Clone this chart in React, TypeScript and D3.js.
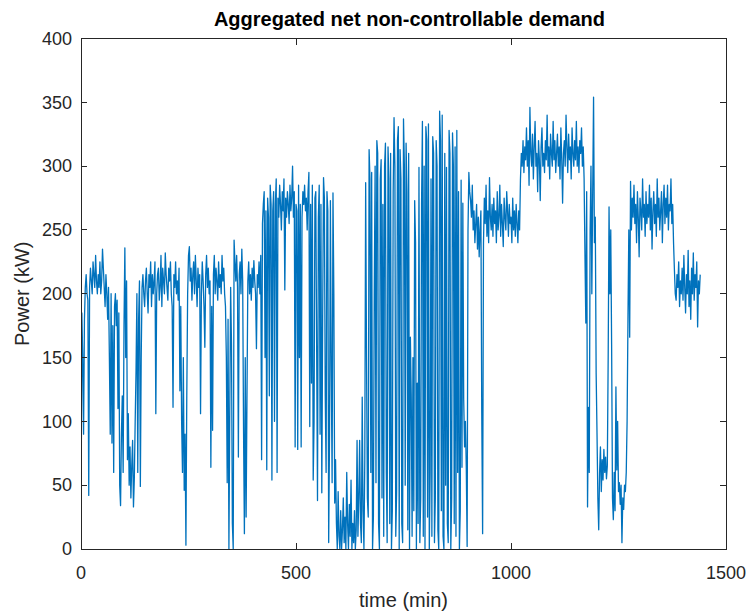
import React from 'react';
import * as d3 from 'd3';

const W = 746;
const H = 611;

const title = 'Aggregated net non-controllable demand';
const xLabel = 'time (min)';
const yLabel = 'Power (kW)';
const xTicks = [0, 500, 1000, 1500];
const yTicks = [0, 50, 100, 150, 200, 250, 300, 350, 400];

// sampling step of the series, minutes
const stepMin = 2;

// power (kW), one value every 2 minutes, 0 .. 1440 min
const power = [
  // 0-38
  5, 185, 150, 90, 180, 205, 215, 200, 195, 42, 205, 220, 210, 200, 225, 215, 205, 230, 210, 200,
  // 40-78
  215, 205, 225, 200, 210, 235, 220, 205, 190, 215, 200, 180, 205, 150, 90, 200, 83, 175, 60, 190,
  // 80-118
  200, 175, 195, 110, 185, 50, 34, 90, 120, 60, 175, 236, 150, 210, 70, 106, 50, 80, 40, 65,
  // 120-158
  85, 33, 55, 100, 140, 200, 60, 180, 210, 49, 150, 205, 215, 200, 190, 210, 220, 200, 185, 215,
  // 160-198
  205, 225, 190, 215, 200, 210, 225, 106, 200, 215, 220, 195, 205, 230, 190, 220, 210, 200, 232, 215,
  // 200-238
  205, 195, 220, 210, 225, 200, 190, 111, 215, 205, 225, 200, 210, 195, 220, 124, 190, 100, 60, 150,
  // 240-278
  46, 90, 3, 120, 200, 230, 237, 210, 220, 195, 215, 225, 200, 230, 210, 190, 220, 205, 215, 106,
  // 280-318
  200, 225, 210, 190, 158, 215, 230, 205, 220, 200, 210, 64, 190, 93, 215, 230, 200, 220, 210, 195,
  // 320-358
  225, 205, 215, 200, 230, 210, 220, 200, 190, 150, 52, 180, 0, 110, 205, 160, 20, 0, 242, 225,
  // 360-398
  210, 230, 205, 72, 215, 225, 200, 235, 210, 93, 12, 150, 25, 120, 210, 225, 200, 215, 195, 220,
  // 400-438
  205, 226, 210, 200, 157, 215, 205, 225, 200, 230, 70, 255, 270, 280, 150, 265, 62, 275, 260, 120,
  // 440-478
  285, 270, 54, 265, 280, 100, 270, 290, 60, 275, 260, 285, 270, 250, 280, 265, 290, 203, 275, 260,
  // 480-518
  280, 270, 255, 285, 265, 275, 300, 260, 280, 80, 270, 265, 78, 285, 150, 270, 80, 260, 280, 270,
  // 520-558
  285, 265, 275, 250, 280, 295, 96, 270, 130, 285, 54, 100, 275, 280, 160, 38, 260, 285, 90, 270,
  // 560-598
  44, 180, 291, 275, 120, 60, 280, 265, 5, 90, 273, 140, 52, 279, 200, 36, 70, 20, 0, 45,
  // 600-638
  10, 0, 30, 0, 15, 40, 5, 25, 0, 60, 20, 0, 35, 10, 54, 0, 20, 5, 30, 0,
  // 640-678
  15, 85, 10, 40, 85, 20, 5, 119, 30, 0, 70, 287, 150, 40, 25, 313, 290, 60, 295, 0,
  // 680-718
  25, 200, 300, 52, 320, 310, 20, 0, 290, 305, 40, 270, 10, 300, 318, 60, 5, 315, 290, 20,
  // 720-758
  310, 0, 30, 280, 338, 300, 10, 45, 320, 331, 0, 313, 290, 20, 5, 337, 300, 50, 318, 280,
  // 760-798
  15, 310, 0, 166, 120, 10, 150, 30, 273, 240, 0, 130, 20, 299, 5, 40, 270, 335, 10, 300,
  // 800-838
  0, 331, 320, 25, 333, 0, 60, 290, 10, 323, 310, 5, 40, 320, 300, 15, 0, 343, 320, 30,
  // 840-878
  340, 10, 0, 310, 50, 299, 20, 5, 328, 310, 0, 40, 326, 300, 20, 315, 10, 328, 60, 280,
  // 880-918
  0, 30, 289, 64, 271, 117, 80, 100, 64, 2, 250, 295, 280, 273, 260, 285, 250, 265, 240, 255,
  // 920-958
  270, 235, 260, 229, 250, 265, 106, 12, 240, 275, 255, 285, 245, 265, 240, 291, 260, 250, 270, 245,
  // 960-998
  275, 255, 265, 240, 280, 250, 260, 285, 245, 270, 255, 237, 275, 260, 250, 280, 265, 245, 270, 255,
  // 1000-1038
  260, 240, 275, 250, 265, 245, 270, 255, 240, 265, 250, 290, 310, 300, 320, 295, 315, 305, 330, 300,
  // 1040-1078
  320, 285, 346, 310, 300, 325, 290, 315, 335, 300, 310, 280, 320, 305, 273, 315, 330, 300, 310, 295,
  // 1080-1118
  320, 305, 340, 300, 315, 290, 325, 310, 300, 335, 305, 320, 295, 310, 325, 300, 315, 290, 330, 305,
  // 1120-1158
  271, 310, 320, 300, 340, 315, 295, 325, 305, 315, 290, 330, 310, 300, 320, 305, 335, 300, 315, 295,
  // 1160-1198
  320, 310, 330, 300, 315, 290, 230, 177, 280, 33, 111, 60, 250, 300, 200, 280, 354, 240, 260, 138,
  // 1200-1238
  91, 40, 15, 60, 80, 45, 70, 54, 78, 60, 72, 55, 65, 150, 268, 200, 250, 160, 40, 23,
  // 1240-1278
  60, 30, 127, 62, 100, 45, 52, 35, 50, 5, 40, 31, 50, 45, 60, 100, 180, 250, 166, 288,
  // 1280-1318
  250, 275, 260, 285, 255, 270, 240, 280, 260, 229, 275, 265, 250, 290, 260, 270, 245, 280, 255, 270,
  // 1320-1358
  260, 285, 250, 275, 235, 265, 280, 255, 270, 245, 290, 260, 275, 250, 265, 280, 240, 270, 285, 255,
  // 1360-1398
  275, 260, 285, 250, 270, 265, 290, 255, 270, 240, 219, 200, 195, 215, 205, 225, 190, 210, 200, 220,
  // 1400-1438
  195, 230, 205, 185, 215, 200, 234, 190, 210, 180, 220, 200, 232, 195, 215, 205, 225, 174, 210, 200,
  // 1440
  215,
];

const times = power.map((_, i) => i * stepMin);

const left = 81;
const right = 726;
const top = 38.5;
const bottom = 549;

const FONT = '"Liberation Sans", Arial, Helvetica, sans-serif';
const AX = '#262626';
const LINE = '#0072BD';

export default function App() {
  const x = d3.scaleLinear().domain([0, 1500]).range([left, right]);
  const y = d3.scaleLinear().domain([0, 400]).range([bottom, top]);
  const line = d3
    .line<number>()
    .x((_, i) => x(times[i]))
    .y((d) => y(d));
  const tickLen = 6;

  return (
    <svg
      width={W}
      height={H}
      style={{ position: 'absolute', left: 0, top: 0, background: '#fff' }}
      fontFamily={FONT}
    >
      <rect x={0} y={0} width={W} height={H} fill="#fff" />
      <defs>
        <clipPath id="plotclip">
          <rect x={left} y={top} width={right - left} height={bottom - top} />
        </clipPath>
      </defs>
      <path
        d={line(power) || ''}
        fill="none"
        stroke={LINE}
        strokeWidth={1.3}
        strokeLinejoin="round"
        clipPath="url(#plotclip)"
      />
      {/* box */}
      <rect
        x={left}
        y={top}
        width={right - left}
        height={bottom - top}
        fill="none"
        stroke={AX}
        strokeWidth={1}
        shapeRendering="crispEdges"
      />
      {/* x ticks */}
      {xTicks.map((t) => (
        <g key={'x' + t}>
          <line x1={x(t)} x2={x(t)} y1={bottom} y2={bottom - tickLen} stroke={AX} shapeRendering="crispEdges" />
          <line x1={x(t)} x2={x(t)} y1={top} y2={top + tickLen} stroke={AX} shapeRendering="crispEdges" />
          <text x={x(t)} y={579} textAnchor="middle" fontSize={18} fill={AX}>
            {t}
          </text>
        </g>
      ))}
      {/* y ticks */}
      {yTicks.map((t) => (
        <g key={'y' + t}>
          <line x1={left} x2={left + tickLen} y1={y(t)} y2={y(t)} stroke={AX} shapeRendering="crispEdges" />
          <line x1={right} x2={right - tickLen} y1={y(t)} y2={y(t)} stroke={AX} shapeRendering="crispEdges" />
          <text x={72} y={y(t)} dy="0.35em" textAnchor="end" fontSize={18} fill={AX}>
            {t}
          </text>
        </g>
      ))}
      <text x={(left + right) / 2 + 6} y={26} textAnchor="middle" fontSize={20} fontWeight="bold" fill="#000">
        {title}
      </text>
      <text x={(left + right) / 2} y={607} textAnchor="middle" fontSize={20} fill={AX}>
        {xLabel}
      </text>
      <text
        transform={`translate(29, ${(top + bottom) / 2}) rotate(-90)`}
        textAnchor="middle"
        fontSize={20}
        fill={AX}
      >
        {yLabel}
      </text>
    </svg>
  );
}
